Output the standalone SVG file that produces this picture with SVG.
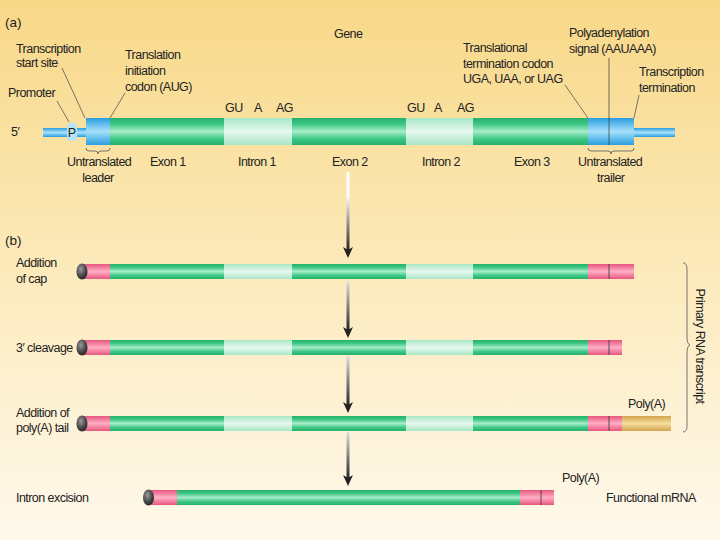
<svg xmlns="http://www.w3.org/2000/svg" width="720" height="540" viewBox="0 0 720 540">
<defs>
<linearGradient id="bg" x1="0" y1="0" x2="0" y2="1">
<stop offset="0" stop-color="#F8D888"/><stop offset="0.5" stop-color="#FCEABB"/><stop offset="1" stop-color="#FFF9EC"/>
</linearGradient>
<linearGradient id="gr" x1="0" y1="0" x2="0" y2="1">
<stop offset="0" stop-color="#25B06A"/><stop offset="0.22" stop-color="#3CC683"/><stop offset="0.5" stop-color="#A6ECC8"/><stop offset="0.78" stop-color="#3CC683"/><stop offset="1" stop-color="#25B06A"/>
</linearGradient>
<linearGradient id="in" x1="0" y1="0" x2="0" y2="1">
<stop offset="0" stop-color="#A9E6C6"/><stop offset="0.5" stop-color="#E6F9EF"/><stop offset="1" stop-color="#A9E6C6"/>
</linearGradient>
<linearGradient id="bl" x1="0" y1="0" x2="0" y2="1">
<stop offset="0" stop-color="#2A9EE0"/><stop offset="0.5" stop-color="#A6E0FA"/><stop offset="1" stop-color="#2A9EE0"/>
</linearGradient>
<linearGradient id="pk" x1="0" y1="0" x2="0" y2="1">
<stop offset="0" stop-color="#E8567E"/><stop offset="0.5" stop-color="#FFAEC6"/><stop offset="1" stop-color="#E8567E"/>
</linearGradient>
<linearGradient id="tn" x1="0" y1="0" x2="0" y2="1">
<stop offset="0" stop-color="#D2A54E"/><stop offset="0.5" stop-color="#F5DD9E"/><stop offset="1" stop-color="#D2A54E"/>
</linearGradient>
<linearGradient id="ar1" x1="0" y1="0" x2="0" y2="1">
<stop offset="0" stop-color="#FFFFFF"/><stop offset="0.3" stop-color="#FFFFFF"/><stop offset="1" stop-color="#222222"/>
</linearGradient>
<linearGradient id="ar" x1="0" y1="0" x2="0" y2="1">
<stop offset="0" stop-color="#E0E0E0"/><stop offset="1" stop-color="#222222"/>
</linearGradient>
<radialGradient id="cap" cx="0.4" cy="0.35" r="0.7">
<stop offset="0" stop-color="#9A9A9A"/><stop offset="0.6" stop-color="#4A4A4A"/><stop offset="1" stop-color="#222"/>
</radialGradient>
</defs>
<style>
text{font-family:"Liberation Sans",Arial,sans-serif;font-size:12.5px;fill:#222;letter-spacing:-0.55px}
.ld{stroke:#444;stroke-width:0.7;fill:none}
.br{stroke:#555;stroke-width:0.8;fill:none}
.sep{stroke:#333;stroke-width:0.8}
</style>
<rect x="0" y="0" width="720" height="540" fill="url(#bg)"/>

<text x="5" y="27" style="font-size:13.5px;letter-spacing:0">(a)</text>
<text x="334" y="38">Gene</text>

<g id="gene">
<rect x="43" y="128" width="45" height="9" fill="url(#bl)"/>
<rect x="632" y="128" width="43" height="9" fill="url(#bl)"/>
<rect x="67" y="123" width="10" height="18" rx="4" fill="#B6E3F6"/>
<text x="72" y="137" text-anchor="middle" style="letter-spacing:0">P</text>
<rect x="86" y="118" width="24" height="27" fill="url(#bl)"/>
<rect x="110" y="118" width="114" height="27" fill="url(#gr)"/>
<rect x="224" y="118" width="68" height="27" fill="url(#in)"/>
<rect x="292" y="118" width="114" height="27" fill="url(#gr)"/>
<rect x="406" y="118" width="67" height="27" fill="url(#in)"/>
<rect x="473" y="118" width="115" height="27" fill="url(#gr)"/>
<rect x="588" y="118" width="46" height="27" fill="url(#bl)"/>
</g>

<g id="gene-labels">
<text x="16" y="53">Transcription</text>
<text x="16" y="67">start site</text>
<text x="8" y="97">Promoter</text>
<text x="125" y="59">Translation</text>
<text x="125" y="75">initiation</text>
<text x="125" y="91">codon (AUG)</text>
<text x="11" y="136">5′</text>
<text x="225" y="112">GU</text><text x="254" y="112">A</text><text x="276" y="112">AG</text>
<text x="407" y="112">GU</text><text x="434" y="112">A</text><text x="457" y="112">AG</text>
<text x="463" y="52">Translational</text>
<text x="463" y="68">termination codon</text>
<text x="463" y="83">UGA, UAA, or UAG</text>
<text x="569" y="37">Polyadenylation</text>
<text x="569" y="53">signal (AAUAAA)</text>
<text x="639" y="76">Transcription</text>
<text x="639" y="92">termination</text>
<text x="67" y="166">Untranslated</text>
<text x="98" y="182" text-anchor="middle">leader</text>
<text x="150" y="166">Exon 1</text>
<text x="238" y="166">Intron  1</text>
<text x="332" y="166">Exon 2</text>
<text x="422" y="166">Intron 2</text>
<text x="514" y="166">Exon 3</text>
<text x="578" y="166">Untranslated</text>
<text x="597" y="182">trailer</text>
</g>

<g id="connectors">
<path class="ld" d="M57,101 L69,122"/>
<path class="ld" d="M62,68 L85,118"/>
<path class="ld" d="M125,93 L110,118"/>
<path class="ld" d="M565,85 L588,118"/>
<path class="ld" d="M609,58 L609,145" style="stroke:#333"/>
<path class="ld" d="M639,95 L634,118"/>
<path class="br" d="M86,148 q0,3 3,3 h6 q3,0 3,3 q0,-3 3,-3 h6 q3,0 3,-3"/>
<path class="br" d="M588,148 q0,3 3,3 h17 q3,0 3,3 q0,-3 3,-3 h17 q3,0 3,-3"/>
<path class="br" d="M683,263 q4,0 4,6 v68 q0,7 3,8 q-3,1 -3,8 v73 q0,6 -4,6"/>
<rect x="346.5" y="172" width="3" height="79" fill="url(#ar1)"/>
<polygon points="343,247 348,250 353,247 348,258" fill="#222"/>
<rect x="346.5" y="281" width="3" height="50" fill="url(#ar)"/>
<polygon points="343,327 348,330 353,327 348,338" fill="#222"/>
<rect x="346.5" y="356" width="3" height="50" fill="url(#ar)"/>
<polygon points="343,402 348,405 353,402 348,413" fill="#222"/>
<rect x="346.5" y="432" width="3" height="47" fill="url(#ar)"/>
<polygon points="343,475 348,478 353,475 348,486" fill="#222"/>
</g>

<text x="5" y="245" style="font-size:13.5px;letter-spacing:0">(b)</text>

<g id="row-cap">
<rect x="84" y="264" width="26" height="15" fill="url(#pk)"/>
<rect x="110" y="264" width="114" height="15" fill="url(#gr)"/>
<rect x="224" y="264" width="68" height="15" fill="url(#in)"/>
<rect x="292" y="264" width="114" height="15" fill="url(#gr)"/>
<rect x="406" y="264" width="67" height="15" fill="url(#in)"/>
<rect x="473" y="264" width="115" height="15" fill="url(#gr)"/>
<rect x="588" y="264" width="46" height="15" fill="url(#pk)"/>
<line class="sep" x1="609" y1="264" x2="609" y2="279"/>
<ellipse cx="82" cy="271.5" rx="5.5" ry="8" fill="url(#cap)"/>
<text x="16" y="267">Addition</text>
<text x="16" y="283">of cap</text>
</g>

<g id="row-cleavage">
<rect x="84" y="340" width="26" height="15" fill="url(#pk)"/>
<rect x="110" y="340" width="114" height="15" fill="url(#gr)"/>
<rect x="224" y="340" width="68" height="15" fill="url(#in)"/>
<rect x="292" y="340" width="114" height="15" fill="url(#gr)"/>
<rect x="406" y="340" width="67" height="15" fill="url(#in)"/>
<rect x="473" y="340" width="115" height="15" fill="url(#gr)"/>
<rect x="588" y="340" width="34" height="15" fill="url(#pk)"/>
<line class="sep" x1="609" y1="340" x2="609" y2="355"/>
<ellipse cx="82" cy="347.5" rx="5.5" ry="8" fill="url(#cap)"/>
<text x="16" y="352">3′ cleavage</text>
</g>

<g id="row-polya">
<rect x="84" y="416" width="26" height="15" fill="url(#pk)"/>
<rect x="110" y="416" width="114" height="15" fill="url(#gr)"/>
<rect x="224" y="416" width="68" height="15" fill="url(#in)"/>
<rect x="292" y="416" width="114" height="15" fill="url(#gr)"/>
<rect x="406" y="416" width="67" height="15" fill="url(#in)"/>
<rect x="473" y="416" width="115" height="15" fill="url(#gr)"/>
<rect x="588" y="416" width="34" height="15" fill="url(#pk)"/>
<rect x="622" y="416" width="49" height="15" fill="url(#tn)"/>
<line class="sep" x1="609" y1="416" x2="609" y2="431"/>
<ellipse cx="82" cy="423.5" rx="5.5" ry="8" fill="url(#cap)"/>
<text x="16" y="417">Addition of</text>
<text x="16" y="432">poly(A) tail</text>
<text x="628" y="408">Poly(A)</text>
</g>

<g id="row-mrna">
<rect x="151" y="490" width="26" height="15" fill="url(#pk)"/>
<rect x="177" y="490" width="343" height="15" fill="url(#gr)"/>
<rect x="520" y="490" width="34" height="15" fill="url(#pk)"/>
<line class="sep" x1="541" y1="490" x2="541" y2="505"/>
<ellipse cx="148.5" cy="497.5" rx="5.5" ry="8" fill="url(#cap)"/>
<text x="16" y="502">Intron excision</text>
<text x="562" y="482">Poly(A)</text>
<text x="606" y="502">Functional mRNA</text>
</g>

<text transform="translate(696,346) rotate(90)" text-anchor="middle">Primary RNA transcript</text>
</svg>
